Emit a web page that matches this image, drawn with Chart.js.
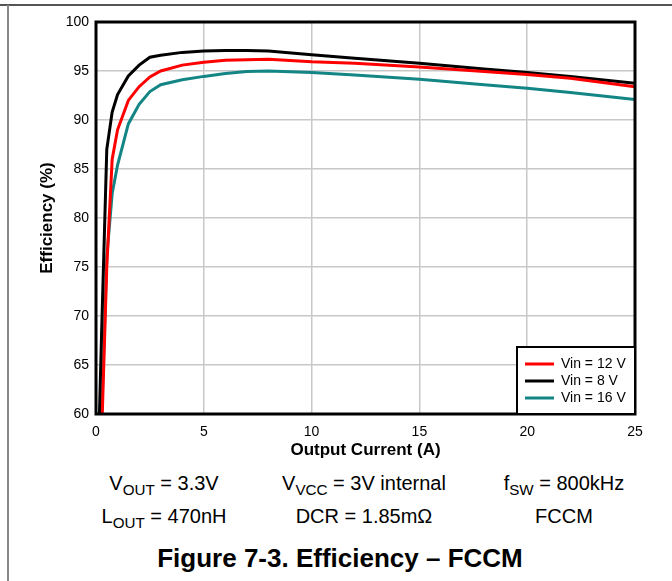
<!DOCTYPE html>
<html>
<head>
<meta charset="utf-8">
<script src="https://cdn.jsdelivr.net/npm/chart.js@4.4.1/dist/chart.umd.min.js"></script>
<style>
    body { margin: 0; background: #fff; width: 672px; height: 581px; position: relative; overflow: hidden; font-family: Arial, "Liberation Sans", sans-serif; }
    .frame-top { position: absolute; left: 0; top: 4px; width: 672px; height: 2px; background: #555; }
    .frame-left { position: absolute; left: 7px; top: 5px; width: 2px; height: 576px; background: #888; }
    #wrap { position: absolute; left: 0; top: 0; width: 672px; height: 465px; }
    .notes { position: absolute; left: 64px; width: 600px; display: flex; font-size: 20px; color: #000; }
    .notes div { width: 200px; text-align: center; }
    .notes sub { font-size: 0.76em; vertical-align: -0.3em; line-height: 0; }
    #caption { position: absolute; left: 40px; width: 600px; top: 543px; text-align: center; font-size: 26px; font-weight: bold; }
</style>
</head>
<body>
<div class="frame-top"></div>
<div class="frame-left"></div>
<div id="wrap"><canvas id="effChart"></canvas></div>
<div class="notes" style="top:472px">
    <div>V<sub>OUT</sub> = 3.3V</div>
    <div>V<sub>VCC</sub> = 3V internal</div>
    <div>f<sub>SW</sub> = 800kHz</div>
</div>
<div class="notes" style="top:505px">
    <div>L<sub>OUT</sub> = 470nH</div>
    <div>DCR = 1.85mΩ</div>
    <div>FCCM</div>
</div>
<div id="caption">Figure 7-3. Efficiency – FCCM</div>

<script>
// Output current (A) shared by all three curves
const current = [0.1, 0.25, 0.5, 0.75, 1, 1.5, 2, 2.5, 3, 4, 5, 6, 7, 8, 10, 12, 15, 18, 20, 22, 25];

// Efficiency (%)
const vin12 = [45, 57, 75, 86, 89, 92, 93.4, 94.4, 95.0, 95.6, 95.9, 96.1, 96.15, 96.2, 95.95, 95.8, 95.4, 94.95, 94.65, 94.25, 93.4];
const vin8  = [55, 67.5, 87, 90.8, 92.6, 94.5, 95.6, 96.4, 96.6, 96.9, 97.05, 97.1, 97.1, 97.05, 96.65, 96.3, 95.8, 95.2, 94.85, 94.45, 93.75];
const vin16 = [45, 59, 76, 82.5, 85.4, 89.6, 91.6, 92.9, 93.6, 94.1, 94.45, 94.75, 94.95, 95.0, 94.85, 94.6, 94.15, 93.6, 93.25, 92.8, 92.1];

const seriesNames = ['Vin = 12 V', 'Vin = 8 V', 'Vin = 16 V'];
const seriesColors = ['#ff0000', '#000000', '#138585'];

const xTicks = [0, 5, 10, 15, 20, 25];
const yTicks = [60, 65, 70, 75, 80, 85, 90, 95, 100];

function toPoints(values) {
    return current.map((c, i) => ({ x: c, y: values[i] }));
}

// frame around the plot area (top/right too)
const plotFrame = {
    id: 'plotFrame',
    afterDatasetsDraw(chart) {
        const { ctx, chartArea: a } = chart;
        ctx.save();
        ctx.strokeStyle = '#000';
        ctx.lineWidth = 3;
        ctx.strokeRect(a.left, a.top, a.right - a.left, a.bottom - a.top);
        ctx.restore();
    }
};

// legend box in the lower right corner of the plot
const boxLegend = {
    id: 'boxLegend',
    afterDraw(chart) {
        const { ctx, chartArea: a } = chart;
        const w = 118, h = 67;
        const x0 = a.right - w, y0 = a.bottom - h;
        ctx.save();
        ctx.fillStyle = '#fff';
        ctx.fillRect(x0, y0, w, h);
        ctx.strokeStyle = '#000';
        ctx.lineWidth = 2;
        ctx.strokeRect(x0, y0, w, h);
        ctx.font = '14px Arial, "Liberation Sans", sans-serif';
        ctx.textBaseline = 'middle';
        chart.data.datasets.forEach((ds, i) => {
            const y = y0 + 17 + i * 17;
            ctx.strokeStyle = ds.borderColor;
            ctx.lineWidth = 3;
            ctx.beginPath();
            ctx.moveTo(x0 + 8, y);
            ctx.lineTo(x0 + 37, y);
            ctx.stroke();
            ctx.fillStyle = '#000';
            ctx.fillText(ds.label, x0 + 44, y);
        });
        ctx.restore();
    }
};

const ctx = document.getElementById('effChart').getContext('2d');
new Chart(ctx, {
    type: 'line',
    data: {
        datasets: [
            { label: seriesNames[0], data: toPoints(vin12), borderColor: seriesColors[0] },
            { label: seriesNames[1], data: toPoints(vin8), borderColor: seriesColors[1] },
            { label: seriesNames[2], data: toPoints(vin16), borderColor: seriesColors[2] }
        ]
    },
    options: {
        responsive: true,
        maintainAspectRatio: false,
        animation: false,
        layout: { padding: { left: 0, right: 37, top: 22, bottom: 0 } },
        elements: {
            line: { borderWidth: 3, tension: 0, fill: false },
            point: { radius: 0, hoverRadius: 0 }
        },
        plugins: {
            legend: { display: false },
            tooltip: { enabled: false }
        },
        scales: {
            x: {
                type: 'linear',
                min: 0,
                max: 25,
                afterBuildTicks: s => { s.ticks = xTicks.map(v => ({ value: v })); },
                afterFit: s => { s.height = 51; },
                grid: { color: '#c8c8c8', lineWidth: 1.5, drawTicks: false },
                border: { display: false },
                ticks: { color: '#000', padding: 10, font: { size: 14, family: 'Arial, "Liberation Sans", sans-serif' } },
                title: {
                    display: true,
                    text: 'Output Current (A)',
                    color: '#000',
                    font: { size: 17, weight: 'bold', family: 'Arial, "Liberation Sans", sans-serif' },
                    padding: { top: 0, bottom: 4 }
                }
            },
            y: {
                min: 60,
                max: 100,
                afterBuildTicks: s => { s.ticks = yTicks.map(v => ({ value: v })); },
                afterFit: s => { s.width = 96; },
                grid: { color: '#c8c8c8', lineWidth: 1.5, drawTicks: false },
                border: { display: false },
                ticks: { color: '#000', padding: 7, font: { size: 14, family: 'Arial, "Liberation Sans", sans-serif' } },
                title: {
                    display: true,
                    text: 'Efficiency (%)',
                    color: '#000',
                    font: { size: 17, weight: 'bold', family: 'Arial, "Liberation Sans", sans-serif' },
                    padding: { top: 37, bottom: 0 }
                }
            }
        }
    },
    plugins: [plotFrame, boxLegend]
});
</script>
</body>
</html>
